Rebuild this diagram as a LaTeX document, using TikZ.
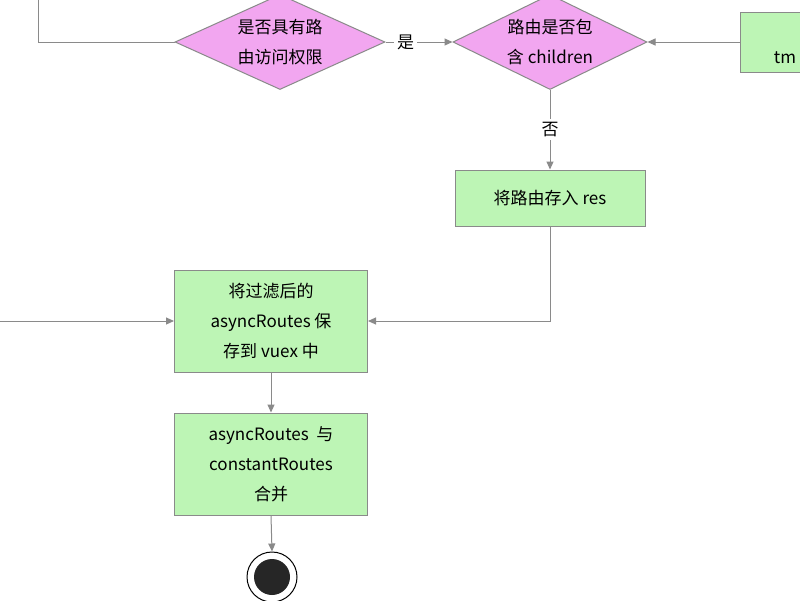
\documentclass[tikz,border=0pt]{standalone}
\usepackage{fontspec}
\setmainfont{Noto Sans CJK SC}
\usetikzlibrary{shapes.geometric,arrows.meta}
\definecolor{dia}{HTML}{F2A6F0}
\definecolor{box}{HTML}{BDF5B5}
\definecolor{ln}{HTML}{8A8A8A}
\begin{document}
\begin{tikzpicture}[x=1pt,y=-1pt,
  every node/.style={font=\fontsize{17}{30}\selectfont},
  d/.style={diamond,aspect=2.2,fill=dia,draw=ln,line width=1pt,align=center,minimum width=210pt,minimum height=95pt,inner sep=0pt},
  b/.style={rectangle,fill=box,draw=ln,line width=1pt,align=center},
  ar/.style={draw=ln,line width=1pt,-{Triangle[length=8pt,width=7pt]}}]
\useasboundingbox (0,0) rectangle (800,600);
\fill[white] (0,0) rectangle (800,600);
\node[d] (d1) at (280,42) {是否具有路\\由访问权限};
\node[d,minimum width=194pt] (d2) at (550,42) {路由是否包\\含 children};
\node[b,minimum width=80pt,minimum height=60pt,anchor=west] (tm) at (740,42) {};
\node at (785,58) {tm};
\node[b,minimum width=190pt,minimum height=56pt] (res) at (550,198) {将路由存入 res};
\node[b,minimum width=193pt,minimum height=102pt] (sv) at (271,321) {将过滤后的\\asyncRoutes 保\\存到 vuex 中};
\node[b,minimum width=193pt,minimum height=102pt] (mg) at (271,464) {asyncRoutes\ \ 与\\constantRoutes\\合并};
\node[circle,draw=black,line width=1pt,minimum size=50pt,fill=white] (end) at (272,577) {};
\node[circle,fill=black!85,minimum size=36pt] at (end) {};
\coordinate (tl) at (38,0);
\coordinate (lf) at (0,321);
\draw[draw=ln,line width=1pt] (tl) |- (d1.west);
\draw[ar] (d1.east) -- node[fill=white,pos=0.3]{是} (d2.west);
\draw[ar] (tm.west) -- (d2.east);
\draw[ar] (d2.south) -- node[fill=white]{否} (res.north);
\draw[ar] (res.south) |- (sv.east);
\draw[ar] (lf) -- (sv.west);
\draw[ar] (sv.south) -- (mg.north);
\draw[ar] (mg.south) -- (end.north);
\end{tikzpicture}
\end{document}
